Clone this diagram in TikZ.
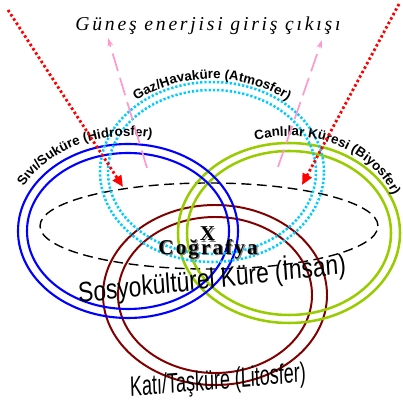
\documentclass[tikz,border=0pt]{standalone}
\usepackage{fontspec}
\setmainfont{Liberation Serif}
\setsansfont{Liberation Sans}
\newfontfamily\titlefont[LetterSpace=14]{Liberation Serif}
\newfontfamily\geofont[LetterSpace=10]{Liberation Serif}
\usepackage{xcolor}
\definecolor{HydroBlue}{RGB}{0,0,255}
\definecolor{BioGreen}{RGB}{153,204,0}
\definecolor{LithoRed}{RGB}{128,0,0}
\definecolor{AtmoCyan}{RGB}{0,204,255}
\definecolor{SunRed}{RGB}{255,0,0}
\definecolor{RayPink}{RGB}{255,153,204}
\usetikzlibrary{arrows.meta, decorations.text}
\tikzset{
  % Sphere outlines
  hydro/.style={draw=HydroBlue, line width=1.5pt},
  bio/.style={draw=BioGreen, line width=1.8pt},
  litho/.style={draw=LithoRed, line width=1.4pt},
  atmo/.style={draw=AtmoCyan, line width=1.8pt, dash pattern=on 1.6pt off 1.4pt},
  socio/.style={draw=black, line width=1pt, dash pattern=on 7pt off 4pt},
  % Arrows
  sunarr/.style={-{Triangle[length=8pt,width=7pt]}, SunRed, line width=2pt,
    dash pattern=on 1.8pt off 1.8pt},
  rayarr/.style={-{Stealth[length=6pt,width=4pt]}, RayPink, line width=1.2pt,
    dash pattern=on 13pt off 5pt},
  % Labels on the sphere rims
  arclabel/.style={postaction={decorate, decoration={text along path,
    text align=center, text={|\sffamily\bfseries\fontsize{9.5}{10}\selectfont|#1}}}},
  biglabel/.style={font=\sffamily\fontsize{20}{20}\selectfont, inner sep=0pt},
  geolabel/.style={font=\geofont\bfseries\fontsize{15}{15}\selectfont, inner sep=0pt},
}

\begin{document}
\begin{tikzpicture}[x=0.025cm, y=0.025cm]
  \useasboundingbox (0,0) rectangle (402,405);

  %% Centres of the spheres
  \coordinate (hydroC) at (128,174);
  \coordinate (bioC) at (289,172);
  \coordinate (lithoC) at (215,110);
  \coordinate (atmoC) at (212,233);
  \coordinate (socioC) at (209,179);

  %% Spheres
  \draw[socio] (socioC) ellipse[x radius=169, y radius=43];
  \draw[litho] (lithoC) ellipse[x radius=112, y radius=90];
  \draw[litho] (lithoC) ellipse[x radius=97, y radius=78];
  \draw[bio] (bioC) ellipse[x radius=111, y radius=90];
  \draw[bio] (bioC) ellipse[x radius=102, y radius=82];
  \draw[hydro] (hydroC) ellipse[x radius=110, y radius=87];
  \draw[hydro] (hydroC) ellipse[x radius=101, y radius=78];
  \draw[atmo] (atmoC) ellipse[x radius=112, y radius=90];
  \draw[atmo] (atmoC) ellipse[x radius=104, y radius=82];

  %% Rim labels
  \path[arclabel={Gaz/Havaküre (Atmosfer)}] ([shift={(atmoC)}]160:117 and 93)
    arc[start angle=160, end angle=20, x radius=117, y radius=93];
  \path[arclabel={Sıvı/Suküre (Hidrosfer)}] ([shift={(hydroC)}]162:118 and 95)
    arc[start angle=162, end angle=70, x radius=118, y radius=95];
  \path[arclabel={Canlılar Küresi (Biyosfer)}] ([shift={(bioC)}]124:113 and 97)
    arc[start angle=124, end angle=4, x radius=113, y radius=97];

  %% Sun energy in and out
  \node[font=\titlefont\itshape\fontsize{14}{14}\selectfont, inner sep=0pt] (sun) at (208,379) {Güneş enerjisi giriş çıkışı};
  \coordinate (inL) at (8,395);
  \coordinate (inLend) at (123,218);
  \coordinate (inR) at (399,401);
  \coordinate (inRend) at (302,220);
  \draw[sunarr] (inL) -- (inLend);
  \draw[sunarr] (inR) -- (inRend);
  \coordinate (outL) at (147,237);
  \coordinate (outLend) at (108,367);
  \coordinate (outR) at (278,238);
  \coordinate (outRend) at (322,365);
  \draw[rayarr] (outL) -- (outLend);
  \draw[rayarr] (outR) -- (outRend);

  %% Geography in the middle
  \node[geolabel, text=gray] at (208.8,169.7) {X};
  \node[geolabel] (x) at (207.5,171) {X};
  \node[geolabel, text=gray] at (209.3,154.7) {Coğrafya};
  \node[geolabel] (geo) at (208,156) {Coğrafya};

  \node[biglabel, xscale=0.81, rotate=5] (socio) at (212,126) {Sosyokültürel Küre (İnsan)};
  \node[biglabel, xscale=0.64, rotate=3] (litho) at (218,23) {Katı/Taşküre (Litosfer)};
\end{tikzpicture}
\end{document}
